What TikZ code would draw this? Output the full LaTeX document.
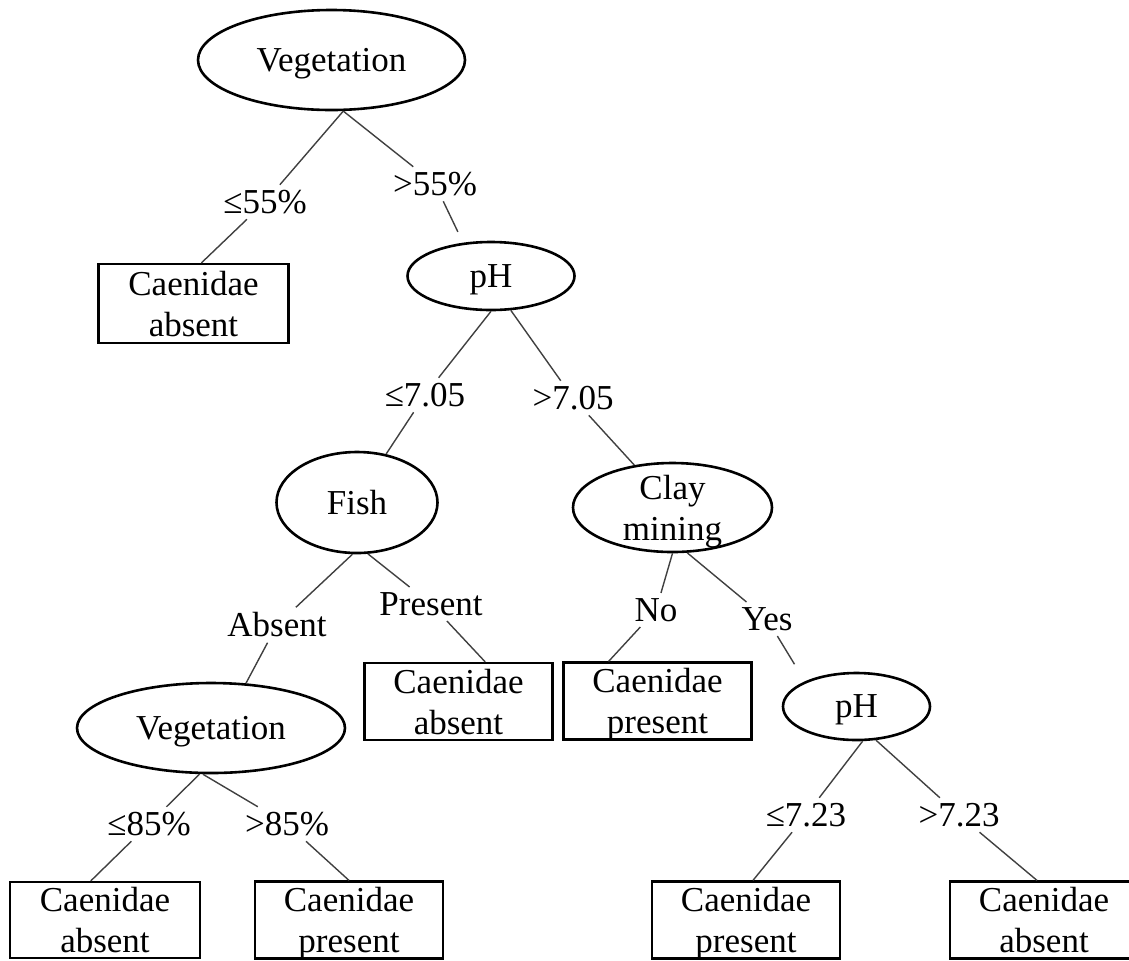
\documentclass[tikz,border=0pt]{standalone}
\usepackage{fontspec}
\setmainfont{Liberation Serif}
\usetikzlibrary{shapes.geometric}

\tikzset{
  split/.style={ellipse, draw, line width=1.3pt, inner sep=0pt, text depth=0pt},
  leaf/.style={draw, line width=1.1pt, inner sep=0pt, align=center, text depth=0pt,
    minimum width=94pt, minimum height=38.5pt},
  cond/.style={inner sep=2.5pt},
  branch/.style={draw=black!75, line width=0.7pt},
}

\begin{document}
\begin{tikzpicture}[x=0.5pt, y=-0.5pt, font=\fontsize{17.5}{20.5}\selectfont]
  \useasboundingbox (0,0) rectangle (1129,960);

  % Nodos de decision
  \node[split, minimum width=133.5pt, minimum height=50pt] (veg) at (331.5,60) {Vegetation};
  \node[split, minimum width=83.5pt, minimum height=34pt] (ph) at (491,276) {pH};
  \node[split, minimum width=80.5pt, minimum height=50.5pt] (fish) at (357,502.5) {Fish};
  \node[split, align=center, inner ysep=-2pt, minimum width=99.5pt, minimum height=44.5pt] (clay) at (672.5,507.5) {Clay\\mining};
  \node[split, minimum width=134pt, minimum height=45pt] (veg2) at (211,728) {Vegetation};
  \node[split, minimum width=73.5pt, minimum height=33.5pt] (ph2) at (856.5,706.5) {pH};

  % Hojas
  \node[leaf, minimum width=95pt, minimum height=39.5pt] (cab1) at (193.5,303.5) {Caenidae\\absent};
  \node[leaf] (cab2) at (458.5,701.5) {Caenidae\\absent};
  \node[leaf] (cab3) at (657.5,701) {Caenidae\\present};
  \node[leaf, minimum width=95pt, minimum height=38pt] (cab4) at (105,920) {Caenidae\\absent};
  \node[leaf] (cab5) at (349,920) {Caenidae\\present};
  \node[leaf] (cab6) at (746,920) {Caenidae\\present};
  \node[leaf] (cab7) at (1044,920) {Caenidae\\absent};

  % Condiciones
  \node[cond] (c55a) at (265,202) {≤55\%};
  \node[cond] (c55b) at (435,184) {>55\%};
  \node[cond] (c705a) at (425,395) {≤7.05};
  \node[cond] (c705b) at (573,398) {>7.05};
  \node[cond] (cabs) at (277,625) {Absent};
  \node[cond] (cpres) at (431,604) {Present};
  \node[cond] (cno) at (656,610) {No};
  \node[cond] (cyes) at (767,619) {Yes};
  \node[cond] (c85a) at (149,824) {≤85\%};
  \node[cond] (c85b) at (287,824) {>85\%};
  \node[cond] (c723a) at (806,815) {≤7.23};
  \node[cond] (c723b) at (959,815) {>7.23};

  % Ramas
  \draw[branch] (veg.-77) -- (c55a);
  \draw[branch] (c55a) -- (cab1.79);
  \draw[branch] (veg.-77) -- (c55b);
  \draw[branch, shorten >=6pt] (c55b) -- (ph.130);

  \draw[branch] (ph.south) -- (c705a);
  \draw[branch] (c705a) -- (fish.59);
  \draw[branch] (ph.-60) -- (c705b);
  \draw[branch] (c705b) -- (clay.132);

  \draw[branch] (fish.-95) -- (cabs);
  \draw[branch] (cabs) -- (veg2.52);
  \draw[branch] (fish.-78) -- (cpres);
  \draw[branch] (cpres) -- (cab2.56);

  \draw[branch] (clay.south) -- (cno);
  \draw[branch] (cno) -- (cab3.141);
  \draw[branch] (clay.-72) -- (cyes);
  \draw[branch, shorten >=10pt] (cyes) -- (ph2.154);

  \draw[branch] (veg2.-104) -- (c85a);
  \draw[branch] (c85a) -- (cab4.110);
  \draw[branch] (veg2.-100) -- (c85b);
  \draw[branch] (c85b) -- (cab5.north);

  \draw[branch] (ph2.-80) -- (c723a);
  \draw[branch] (c723a) -- (cab6.80);
  \draw[branch] (ph2.-60) -- (c723b);
  \draw[branch] (c723b) -- (cab7.100);
\end{tikzpicture}
\end{document}
